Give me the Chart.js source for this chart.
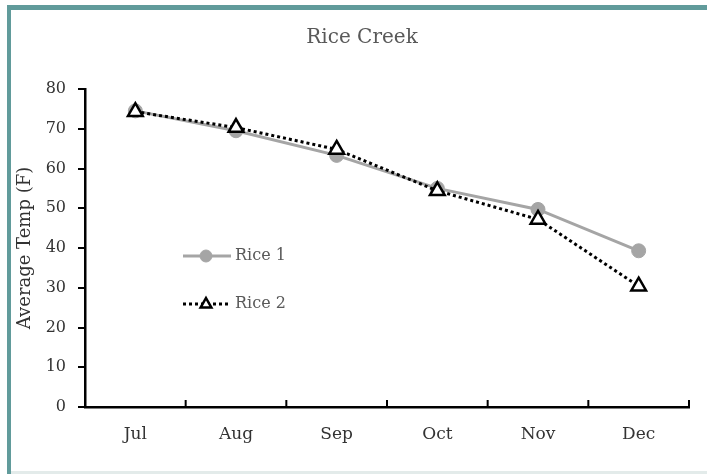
<!DOCTYPE html>
<html>
<head>
<meta charset="utf-8">
<script src="https://cdn.jsdelivr.net/npm/chart.js@4"></script>
<style>
  html, body { margin: 0; padding: 0; background: #fff; }
  #wrap { position: relative; width: 707px; height: 474px; overflow: hidden; }
  #chart { position: absolute; left: 0; top: 0; }
  .edge { position: absolute; background: #619b9b; }
</style>
</head>
<body>
<div id="wrap">
  <canvas id="chart" width="707" height="474"></canvas>
  <div class="edge" style="left:7px;top:5px;width:4px;height:469px"></div>
  <div class="edge" style="left:7px;top:5px;width:700px;height:5px"></div>
  <div style="position:absolute;left:11px;top:471px;width:696px;height:3px;background:#e3ebea"></div>
</div>
<script>
// datos
const meses = ["Jul", "Aug", "Sep", "Oct", "Nov", "Dec"];
const rice1 = [74.5, 69.5, 63.3, 55, 49.7, 39.3];
const rice2 = [74.3, 70.3, 64.8, 54.4, 47.2, 30.4];
const ticksY = [0, 10, 20, 30, 40, 50, 60, 70, 80];

const serif = "'DejaVu Serif', serif";

// marcas del eje X hacia dentro, entre categorías
const marcasX = {
  id: "marcasX",
  afterDraw(chart) {
    const { ctx, scales: { x }, chartArea } = chart;
    ctx.save();
    ctx.strokeStyle = "#000";
    ctx.lineWidth = 2;
    ctx.beginPath();
    for (let i = 0; i < meses.length; i++) {
      const px = i < meses.length - 1
        ? (x.getPixelForValue(i) + x.getPixelForValue(i + 1)) / 2
        : chartArea.right;
      ctx.moveTo(px, chartArea.bottom);
      ctx.lineTo(px, chartArea.bottom - 7);
    }
    ctx.stroke();
    ctx.restore();
  },
};

// leyenda dentro del área del gráfico
const leyenda = {
  id: "leyenda",
  afterDraw(chart) {
    const { ctx } = chart;
    const items = [
      { ds: chart.data.datasets[0], y: 256, r: 6 },
      { ds: chart.data.datasets[1], y: 304, r: 6 },
    ];
    ctx.save();
    items.forEach(({ ds, y, r }) => {
      ctx.strokeStyle = ds.borderColor;
      ctx.lineWidth = ds.borderWidth;
      ctx.setLineDash(ds.borderDash || []);
      ctx.beginPath();
      ctx.moveTo(183, y);
      ctx.lineTo(231, y);
      ctx.stroke();
      ctx.setLineDash([]);
      ctx.fillStyle = ds.pointBackgroundColor;
      ctx.strokeStyle = ds.pointBorderColor;
      ctx.lineWidth = ds.pointBorderWidth;
      ctx.beginPath();
      if (ds.pointStyle === "circle") {
        ctx.arc(206, y, r, 0, Math.PI * 2);
      } else {
        ctx.moveTo(206, y - r);
        ctx.lineTo(206 + r * 0.9, y + r * 0.6);
        ctx.lineTo(206 - r * 0.9, y + r * 0.6);
        ctx.closePath();
      }
      ctx.fill();
      ctx.stroke();
      ctx.fillStyle = "#595959";
      ctx.font = "16px " + serif;
      ctx.textBaseline = "middle";
      ctx.fillText(ds.label, 235, y);
    });
    ctx.restore();
  },
};

// título
const titulo = {
  id: "titulo",
  afterDraw(chart) {
    const { ctx } = chart;
    ctx.save();
    ctx.fillStyle = "#595959";
    ctx.font = "20px " + serif;
    ctx.textAlign = "center";
    ctx.textBaseline = "middle";
    ctx.fillText("Rice Creek", 362, 38);
    ctx.restore();
  },
};

new Chart(document.getElementById("chart"), {
  type: "line",
  data: {
    labels: meses,
    datasets: [
      {
        label: "Rice 1",
        data: rice1,
        borderColor: "#a5a5a5",
        borderWidth: 3,
        pointStyle: "circle",
        pointRadius: 7,
        pointBackgroundColor: "#a5a5a5",
        pointBorderColor: "#a5a5a5",
        pointBorderWidth: 1,
        order: 2,
      },
      {
        label: "Rice 2",
        data: rice2,
        borderColor: "#000",
        borderWidth: 3,
        borderDash: [3, 3],
        pointStyle: "triangle",
        pointRadius: 8.5,
        pointBackgroundColor: "#fff",
        pointBorderColor: "#000",
        pointBorderWidth: 2.5,
        order: 1,
      },
    ],
  },
  options: {
    responsive: false,
    animation: false,
    events: [],
    layout: { padding: { left: 10, top: 89, right: 18, bottom: 0 } },
    plugins: {
      legend: { display: false },
      title: { display: false },
      tooltip: { enabled: false },
    },
    scales: {
      x: {
        offset: true,
        grid: { display: false },
        border: { display: true, color: "#000", width: 2.5 },
        ticks: { color: "#333", font: { family: serif, size: 17 }, padding: 9, maxRotation: 0 },
        afterFit: (s) => { s.height = 67; },
      },
      y: {
        min: 0,
        max: 80,
        afterBuildTicks: (s) => { s.ticks = ticksY.map((v) => ({ value: v })); },
        grid: { drawOnChartArea: false, drawTicks: true, tickLength: 7, color: "#000", lineWidth: 2 },
        border: { display: true, color: "#000", width: 2.5 },
        ticks: { color: "#333", font: { family: serif, size: 16 }, padding: 12 },
        title: {
          display: true,
          text: "Average Temp (F)",
          color: "#333",
          font: { family: serif, size: 18 },
          padding: { top: 5, bottom: 0 },
        },
        afterFit: (s) => { s.width = 75; },
      },
    },
  },
  plugins: [marcasX, leyenda, titulo],
});
</script>
</body>
</html>
